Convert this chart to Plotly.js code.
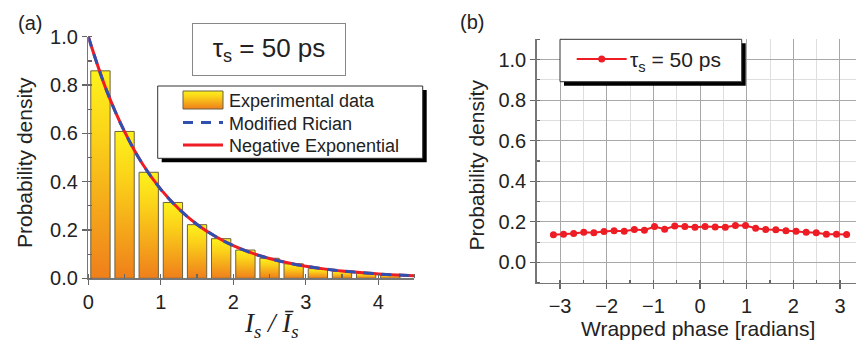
<!DOCTYPE html>
<html>
<head>
<meta charset="utf-8">
<script src="https://cdn.plot.ly/plotly-3.0.1.min.js"></script>
<style>html,body{margin:0;padding:0;background:#fff;}#chart{width:856px;height:347px;}</style>
</head>
<body>
<div id="chart"></div>
<script>
// ---- Panel (a): intensity histogram ----
const binCenters = [0.167, 0.5, 0.833, 1.167, 1.5, 1.833, 2.167, 2.5, 2.833, 3.167, 3.5, 3.833, 4.167];
const binHeights = [0.859, 0.608, 0.439, 0.314, 0.222, 0.164, 0.117, 0.083, 0.060, 0.040, 0.029, 0.021, 0.015];
const curveX = [0, 0.25, 0.5, 0.75, 1.0, 1.25, 1.5, 1.75, 2.0, 2.25, 2.5, 2.75, 3.0, 3.25, 3.5, 3.75, 4.0, 4.25, 4.5];
const ricianY = [1.0, 0.779, 0.607, 0.472, 0.368, 0.287, 0.223, 0.174, 0.135, 0.105, 0.082, 0.064, 0.050, 0.039, 0.030, 0.024, 0.018, 0.014, 0.011];
const negExpY = [1.0, 0.779, 0.607, 0.472, 0.368, 0.287, 0.223, 0.174, 0.135, 0.105, 0.082, 0.064, 0.050, 0.039, 0.030, 0.024, 0.018, 0.014, 0.011];
const seriesNamesA = ['Experimental data', 'Modified Rician', 'Negative Exponential'];

// ---- Panel (b): wrapped phase distribution ----
const phaseX = [-3.142, -2.925, -2.708, -2.491, -2.275, -2.058, -1.842, -1.625, -1.408, -1.192,
                -0.975, -0.758, -0.542, -0.325, -0.108, 0.108, 0.325, 0.542, 0.758, 0.975,
                1.192, 1.408, 1.625, 1.842, 2.058, 2.275, 2.491, 2.708, 2.925, 3.142];
const phaseY = [0.136, 0.139, 0.143, 0.149, 0.146, 0.152, 0.156, 0.154, 0.162, 0.159,
                0.177, 0.164, 0.179, 0.177, 0.174, 0.177, 0.175, 0.174, 0.182, 0.182,
                0.169, 0.162, 0.161, 0.156, 0.154, 0.149, 0.146, 0.139, 0.139, 0.138];
const seriesNameB = 'τ<sub>s</sub> = 50 ps';

const FONT = 'Liberation Sans, Arial, sans-serif';
const BARCOL = 'rgb(240, 128, 26)';
const W = 856, H = 347;
const px = v => v / W, py = v => 1 - v / H;

const traces = [
  {type: 'bar', x: binCenters, y: binHeights, name: seriesNamesA[0], xaxis: 'x', yaxis: 'y',
   marker: {color: BARCOL, line: {color: '#6e6040', width: 1}}, legend: 'legend', legendrank: 1},
  {type: 'scatter', mode: 'lines', x: curveX, y: negExpY, name: seriesNamesA[2], xaxis: 'x', yaxis: 'y',
   line: {color: '#ee1c24', width: 3, shape: 'spline'}, cliponaxis: false, legend: 'legend', legendrank: 3},
  {type: 'scatter', mode: 'lines', x: curveX, y: ricianY, name: seriesNamesA[1], xaxis: 'x', yaxis: 'y',
   line: {color: '#3050b0', width: 3, dash: '10px,8px', shape: 'spline'}, cliponaxis: false, legend: 'legend', legendrank: 2},
  {type: 'scatter', mode: 'lines+markers', x: phaseX, y: phaseY, name: seriesNameB, xaxis: 'x2', yaxis: 'y2',
   line: {color: '#ee1c24', width: 2}, marker: {color: '#ee1c24', size: 7}, legend: 'legend2'}
];

const axisCommon = {
  showline: true, linecolor: '#777', linewidth: 1.5, zeroline: false,
  ticks: 'outside', ticklen: 5, tickwidth: 1.2, tickcolor: '#666',
  tickfont: {family: FONT, size: 20, color: '#222'}, fixedrange: true
};

function boxWithShadow(x0, y0, x1, y1, border) {
  return [
    {type: 'rect', xref: 'paper', yref: 'paper', layer: 'above',
     x0: px(x0 + 4), x1: px(x1 + 4), y0: py(y0 + 4), y1: py(y1 + 4),
     fillcolor: '#000', line: {width: 0}},
    {type: 'rect', xref: 'paper', yref: 'paper', layer: 'above',
     x0: px(x0), x1: px(x1), y0: py(y0), y1: py(y1),
     fillcolor: '#fff', line: {color: border, width: 1}}
  ];
}

const layout = {
  width: W, height: H,
  margin: {l: 0, r: 0, t: 0, b: 0},
  paper_bgcolor: '#fff', plot_bgcolor: '#fff',
  font: {family: FONT, color: '#222'},
  bargap: 0.2,
  xaxis: Object.assign({}, axisCommon, {
    domain: [0.1032, 0.4842], range: [0, 4.5], anchor: 'y', tick0: 0, dtick: 1, showgrid: false,
    minor: {dtick: 0.5, ticks: 'inside', ticklen: 4, tickcolor: '#666', showgrid: false}
  }),
  yaxis: Object.assign({}, axisCommon, {
    domain: [0.198, 0.894], range: [0, 1.0], anchor: 'x', tick0: 0, dtick: 0.2, tickformat: '.1f', showgrid: false,
    minor: {dtick: 0.1, ticks: 'inside', ticklen: 4, tickcolor: '#666', showgrid: false}
  }),
  xaxis2: Object.assign({}, axisCommon, {
    domain: [0.627, 1.0], range: [-3.5, 3.343], anchor: 'y2', tick0: 0, dtick: 1,
    showgrid: true, gridcolor: '#a8a8a8', gridwidth: 1,
    minor: {dtick: 0.5, ticks: 'inside', ticklen: 3, tickcolor: '#666', showgrid: true, gridcolor: '#dedede', gridwidth: 1}
  }),
  yaxis2: Object.assign({}, axisCommon, {
    domain: [0.1853, 0.8867], range: [-0.1, 1.1], anchor: 'x2', tick0: 0, dtick: 0.2, tickformat: '.1f',
    showgrid: true, gridcolor: '#a8a8a8', gridwidth: 1,
    minor: {dtick: 0.1, ticks: 'inside', ticklen: 3, tickcolor: '#666', showgrid: true, gridcolor: '#dedede', gridwidth: 1}
  }),
  legend: {
    x: px(176), y: py(88), xanchor: 'left', yanchor: 'top',
    bgcolor: 'rgba(0,0,0,0)', borderwidth: 0,
    font: {family: FONT, size: 18, color: '#222'}, itemwidth: 40, tracegroupgap: 0,
    traceorder: 'normal'
  },
  legend2: {
    x: px(570), y: py(40), xanchor: 'left', yanchor: 'top',
    bgcolor: 'rgba(0,0,0,0)', borderwidth: 0,
    font: {family: FONT, size: 21, color: '#222'}, itemwidth: 50
  },
  showlegend: true,
  shapes: [].concat(boxWithShadow(157.7, 86, 422.7, 158.3, '#333'), boxWithShadow(560, 39.3, 741.7, 81.7, '#333')),
  annotations: [
    {xref: 'paper', yref: 'paper', x: px(30), y: py(23), text: '(a)', showarrow: false,
     font: {family: FONT, size: 20, color: '#222'}, xanchor: 'center', yanchor: 'middle'},
    {xref: 'paper', yref: 'paper', x: px(472), y: py(22), text: '(b)', showarrow: false,
     font: {family: FONT, size: 20, color: '#222'}, xanchor: 'center', yanchor: 'middle'},
    {xref: 'paper', yref: 'paper', x: px(269), y: py(49.3), text: 'τ<sub>s</sub> = 50 ps', showarrow: false,
     font: {family: FONT, size: 26, color: '#222'}, xanchor: 'center', yanchor: 'middle',
     bordercolor: '#888', borderwidth: 1, borderpad: 0, bgcolor: '#fff', width: 152, height: 51},
    {xref: 'paper', yref: 'paper', x: px(24), y: py(163), text: 'Probability density', showarrow: false,
     textangle: -90, font: {family: FONT, size: 21, color: '#222'}, xanchor: 'center', yanchor: 'middle'},
    {xref: 'paper', yref: 'paper', x: px(475.5), y: py(165), text: 'Probability density', showarrow: false,
     textangle: -90, font: {family: FONT, size: 21, color: '#222'}, xanchor: 'center', yanchor: 'middle'},
    {xref: 'paper', yref: 'paper', x: px(271), y: py(325), text: '<i>I<sub>s</sub> / Ī<sub>s</sub></i>', showarrow: false,
     font: {family: 'Liberation Serif, Times New Roman, serif', size: 27, color: '#222'}, xanchor: 'center', yanchor: 'middle'},
    {xref: 'paper', yref: 'paper', x: px(697.5), y: py(328), text: 'Wrapped phase [radians]', showarrow: false,
     font: {family: FONT, size: 21, color: '#222'}, xanchor: 'center', yanchor: 'middle'}
  ]
};

const gd = document.getElementById('chart');
const NS = 'http://www.w3.org/2000/svg';
const isBarFill = p => p.style.fill && p.style.fill.replace(/\s/g, '') === BARCOL.replace(/\s/g, '');

function parseT(el) {
  const t = el.getAttribute('transform') || '';
  const m = t.match(/translate\(\s*([-\d.eE]+)[ ,]+([-\d.eE]+)/);
  return m ? [parseFloat(m[1]), parseFloat(m[2])] : [0, 0];
}

// place legend items: text left edge, row centres, symbol start and length (absolute px)
function arrangeLegend(lg, textLeft, rowYs, symStart, symLen) {
  if (!lg || lg.dataset.done) return;
  const items = Array.from(lg.querySelectorAll('g.traces'));
  if (!items.length) return;
  const txt0 = items[0].querySelector('text.legendtext') || items[0].querySelector('text');
  if (!txt0) return;
  lg.querySelectorAll('[clip-path]').forEach(e => e.removeAttribute('clip-path'));
  items.sort((a, b) => parseT(a)[1] - parseT(b)[1]);
  const base = parseT(items[0]);
  items.forEach((it, i) => {
    const t = parseT(it);
    it.setAttribute('transform', 'translate(' + t[0] + ',' + (base[1] + rowYs[i] - rowYs[0]) + ')');
  });
  const gr = gd.getBoundingClientRect();
  const it0 = items[0];
  const t0 = it0.querySelector('text.legendtext') || it0.querySelector('text');
  const left = t0.getBoundingClientRect().left - gr.left;
  const f0 = it0.getCTM().f;
  const lt = parseT(lg);
  lg.setAttribute('transform', 'translate(' + (lt[0] + textLeft - left) + ',' + (lt[1] + rowYs[0] - f0) + ')');
  items.forEach(it => {
    const e = it.getCTM().e;
    const a = symStart - e;
    it.querySelectorAll('path.js-line').forEach(p => p.setAttribute('d', 'M' + a + ',0h' + symLen));
    it.querySelectorAll('.legendpoints path').forEach(p => {
      const pt = parseT(p);
      if (isBarFill(p) || p.style.fill.indexOf('barGrad') >= 0) {
        p.setAttribute('d', 'M' + (a - pt[0]) + ',' + (-9 - pt[1]) + 'h' + symLen + 'v18h-' + symLen + 'Z');
      } else {
        p.setAttribute('transform', 'translate(' + (a + symLen / 2) + ',' + pt[1] + ')');
      }
    });
  });
  lg.dataset.done = '1';
}

function post() {
  gd.querySelectorAll('svg.main-svg').forEach(function (svg) {
    if (svg.querySelector('#barGrad')) return;
    let defs = svg.querySelector('defs');
    if (!defs) { defs = document.createElementNS(NS, 'defs'); svg.insertBefore(defs, svg.firstChild); }
    const grad = document.createElementNS(NS, 'linearGradient');
    grad.setAttribute('id', 'barGrad');
    grad.setAttribute('x1', '0'); grad.setAttribute('y1', '0');
    grad.setAttribute('x2', '0'); grad.setAttribute('y2', '1');
    [['0', '#fdf21c'], ['0.3', '#fbd419'], ['1', '#ef7f1b']].forEach(function (s) {
      const st = document.createElementNS(NS, 'stop');
      st.setAttribute('offset', s[0]); st.setAttribute('stop-color', s[1]);
      grad.appendChild(st);
    });
    defs.appendChild(grad);
  });
  const info = gd.querySelector('g.infolayer');
  if (info) {
    try { arrangeLegend(info.querySelector(':scope > g.legend'), 229, [100, 122.5, 145], 183, 40); } catch (e) {}
    try { arrangeLegend(info.querySelector(':scope > g.legend2'), 630, [59], 576.7, 50); } catch (e) {}
  }
  gd.querySelectorAll('path').forEach(function (p) {
    if (isBarFill(p)) p.style.fill = 'url(#barGrad)';
  });
}

Plotly.newPlot(gd, traces, layout, {staticPlot: true, displayModeBar: false}).then(function () {
  post();
  setTimeout(post, 50);
  setTimeout(post, 300);
});
</script>
</body>
</html>
